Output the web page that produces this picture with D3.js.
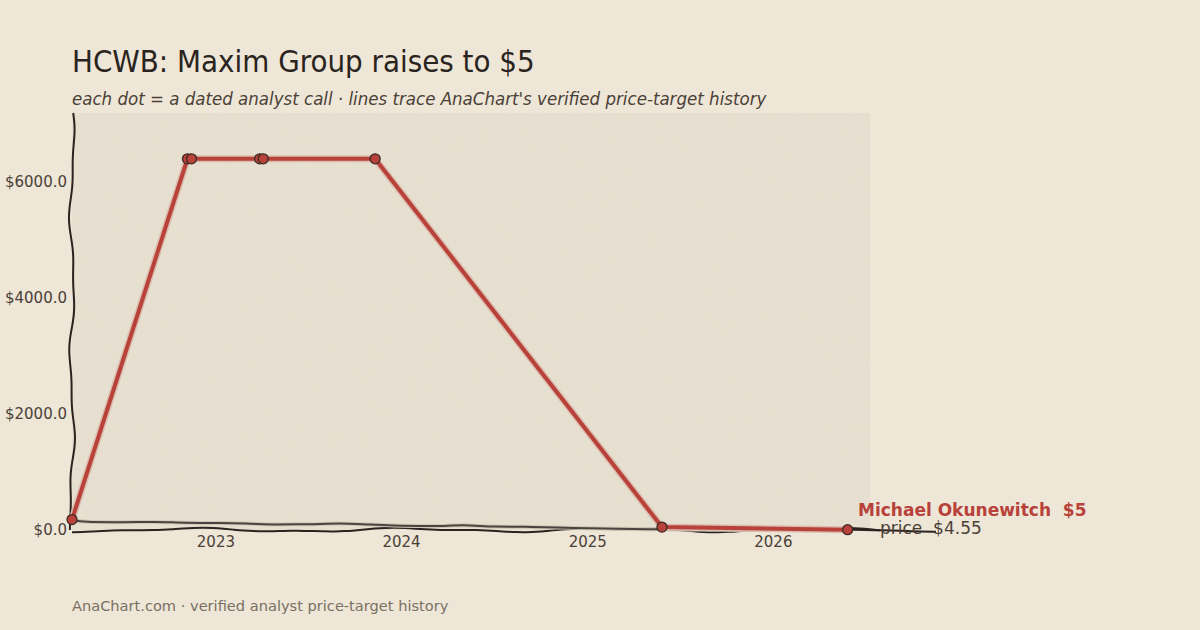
<html>
<head>
<style>
  body { margin: 0; background: #EEE6D6; }
  svg text { font-family: "DejaVu Sans", sans-serif; white-space: pre; }
</style>
</head>
<body>
<div id="chart"></div>
<script src="https://d3js.org/d3.v7.min.js"></script>
<script>
// analyst calls (Maxim Group / Michael Okunewitch), split-adjusted targets
var callDates = ["2022-03-24", "2022-11-06", "2022-11-14", "2023-03-28", "2023-04-04", "2023-11-10", "2025-05-27", "2026-05-27"];
var callTargets = [180, 6400, 6400, 6400, 6400, 6400, 50, 5];

// share price, roughly monthly-quarterly
var priceDates = ["2022-03-24", "2022-05-01", "2022-07-01", "2022-09-01", "2022-11-01", "2023-01-01", "2023-03-01", "2023-05-01",
  "2023-07-01", "2023-09-01", "2023-11-01", "2024-01-01", "2024-03-01", "2024-05-01", "2024-07-01", "2024-09-01",
  "2024-11-01", "2025-01-01", "2025-03-01", "2025-05-01", "2025-07-01", "2025-09-01", "2025-11-01", "2026-01-01", "2026-03-01", "2026-05-27"];
var priceValues = [165, 140, 135, 140, 125, 120, 110, 95, 100, 110, 95, 75, 70, 80, 60, 55, 45, 30, 20, 15, 10, 8, 6, 5, 5, 4.55];

var yTicks = [0, 2000, 4000, 6000];
var xTicks = ["2023-01-01", "2024-01-01", "2025-01-01", "2026-01-01"];

var title = "HCWB: Maxim Group raises to $5";
var subtitle = "each dot = a dated analyst call \u00b7 lines trace AnaChart's verified price-target history";
var footer = "AnaChart.com \u00b7 verified analyst price-target history";
var analystLabel = "Michael Okunewitch  $5";
var priceLabel = "price  $4.55";

var W = 1200, H = 630;
var mL = 72, mR = 870, mT = 113, mB = 530;
var red = "#B8423A", ink = "#2a2420";
var parse = d3.timeParse("%Y-%m-%d");

var svg = d3.select("#chart").append("svg")
  .attr("width", W).attr("height", H);

var defs = svg.append("defs");
var f = defs.append("filter").attr("id", "grain").attr("x", 0).attr("y", 0).attr("width", 1).attr("height", 1);
f.append("feTurbulence").attr("type", "fractalNoise").attr("baseFrequency", 0.9).attr("numOctaves", 2).attr("seed", 3);
f.append("feColorMatrix").attr("type", "matrix").attr("values", "0 0 0 0 0.45  0 0 0 0 0.4  0 0 0 0 0.3  0 0 0 0.06 0");
f.append("feComposite").attr("in2", "SourceGraphic").attr("operator", "in");

svg.append("rect").attr("width", W).attr("height", H).attr("fill", "#EEE6D6");

var x = d3.scaleTime()
  .domain([parse("2022-03-24"), parse("2026-07-10")])
  .range([mL, mR]);
var y = d3.scaleLinear().domain([0, 7190]).range([mB, mT]);

// plot panel
svg.append("rect").attr("x", mL).attr("y", mT).attr("width", mR - mL).attr("height", mB - mT)
  .attr("fill", "#E8E1D2");
svg.append("rect").attr("x", mL).attr("y", mT).attr("width", mR - mL).attr("height", mB - mT)
  .attr("fill", "#E8E1D2").attr("filter", "url(#grain)");

// titles
var condensed = "'DejaVu Sans Condensed', 'DejaVu Sans'";
svg.append("text").attr("x", 72).attr("y", 72).text(title)
  .style("font-family", condensed).style("font-stretch", "condensed")
  .style("font-size", "30.9px").attr("fill", ink);
svg.append("text").attr("x", 72).attr("y", 105).text(subtitle)
  .style("font-family", condensed).style("font-stretch", "condensed")
  .style("font-style", "italic").style("font-size", "18.5px").attr("fill", "#4a4038");
svg.append("text").attr("x", 72).attr("y", 611).text(footer)
  .style("font-size", "14.6px").attr("fill", "#7a7064");

// hand drawn wobble helper
function wobble(pts, amp, freq, phase) {
  return pts.map(function (p, i) {
    return [p[0], p[1], amp * Math.sin(i * freq + phase) + amp * 0.5 * Math.sin(i * freq * 2.3 + phase * 1.7)];
  });
}
var line = d3.line().curve(d3.curveBasis);

// left spine
var lp = d3.range(0, 41).map(function (i) { return [mL, mT + (mB - mT) * i / 40]; });
svg.append("path")
  .attr("d", line(wobble(lp, 2.2, 0.45, 0.3).map(function (p) { return [p[0] + p[2], p[1]]; })))
  .attr("fill", "none").attr("stroke", ink).attr("stroke-width", 2);

// bottom spine
var bp = d3.range(0, 81).map(function (i) { return [mL + (mR - mL + 10) * i / 80, mB]; });
svg.append("path")
  .attr("d", line(wobble(bp, 1.6, 0.3, 1.1).map(function (p) { return [p[0], p[1] + p[2]]; })))
  .attr("fill", "none").attr("stroke", ink).attr("stroke-width", 2);

// y ticks
svg.append("g").selectAll("text").data(yTicks).enter().append("text")
  .attr("x", 67).attr("y", function (d) { return y(d) + 5; })
  .attr("text-anchor", "end").style("font-size", "15px").attr("fill", "#4a4038")
  .text(function (d) { return "$" + d.toFixed(1); });

// x ticks
svg.append("g").selectAll("text").data(xTicks).enter().append("text")
  .attr("x", function (d) { return x(parse(d)); }).attr("y", 547)
  .attr("text-anchor", "middle").style("font-size", "15px").attr("fill", "#4a4038")
  .text(function (d) { return d.slice(0, 4); });

// price line
var priceLine = d3.line().curve(d3.curveMonotoneX)
  .x(function (d, i) { return x(parse(priceDates[i])); })
  .y(function (d) { return y(d); });
svg.append("path").datum(priceValues).attr("d", priceLine)
  .attr("fill", "none").attr("stroke", "#cfc6b4").attr("stroke-width", 4);
svg.append("path").datum(priceValues).attr("d", priceLine)
  .attr("fill", "none").attr("stroke", "#4a4440").attr("stroke-width", 2);
// leader to the price label
var lastX = x(parse(priceDates[priceDates.length - 1])), lastY = y(priceValues[priceValues.length - 1]);
svg.append("path")
  .attr("d", line([[lastX, lastY], [885, lastY + 0.5], [910, lastY + 1.5], [936, lastY + 2]]))
  .attr("fill", "none").attr("stroke", ink).attr("stroke-width", 2);

// target line
var targetLine = d3.line()
  .x(function (d, i) { return x(parse(callDates[i])); })
  .y(function (d) { return y(d); });
svg.append("path").datum(callTargets).attr("d", targetLine)
  .attr("fill", "none").attr("stroke", "#dcbcae").attr("stroke-width", 7).attr("stroke-linejoin", "round");
svg.append("path").datum(callTargets).attr("d", targetLine)
  .attr("fill", "none").attr("stroke", red).attr("stroke-width", 4).attr("stroke-linejoin", "round");

svg.append("g").selectAll("circle").data(callTargets).enter().append("circle")
  .attr("cx", function (d, i) { return x(parse(callDates[i])); })
  .attr("cy", function (d) { return y(d); })
  .attr("r", 5).attr("fill", red).attr("stroke", "#3a2a26").attr("stroke-width", 1.3);

// end labels
svg.append("text").attr("x", 858).attr("y", 516).text(analystLabel)
  .style("font-size", "17px").style("font-weight", "bold").attr("fill", red);
svg.append("text").attr("x", 880).attr("y", 534).text(priceLabel)
  .style("font-size", "17px").attr("fill", "#4a4038");
</script>
</body>
</html>
